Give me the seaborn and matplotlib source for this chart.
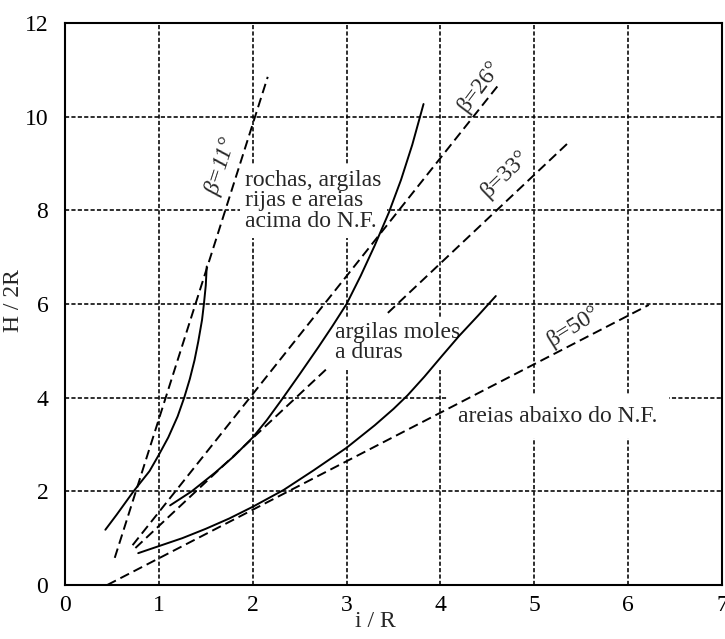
import matplotlib
matplotlib.use("Agg")
import matplotlib.pyplot as plt
import seaborn as sns
import pandas as pd

# ---- data ----
# solid curves
rochas_x = [0.43, 0.55, 0.73, 0.90, 1.00, 1.10, 1.20, 1.27, 1.33, 1.38, 1.42, 1.46, 1.48, 1.50, 1.51]
rochas_y = [1.18, 1.50, 2.00, 2.43, 2.78, 3.15, 3.60, 4.00, 4.40, 4.80, 5.20, 5.66, 6.00, 6.40, 6.80]

argilas_x = [1.12, 1.35, 1.60, 1.80, 2.00, 2.15, 2.31, 2.50, 2.70, 2.85, 3.00, 3.15, 3.30, 3.45, 3.58, 3.70, 3.82]
argilas_y = [1.70, 2.00, 2.40, 2.75, 3.15, 3.52, 3.96, 4.50, 5.08, 5.53, 6.00, 6.60, 7.25, 7.95, 8.65, 9.40, 10.27]

areias_x = [0.78, 1.00, 1.25, 1.50, 1.75, 2.00, 2.33, 2.65, 3.00, 3.30, 3.50, 3.65, 3.83, 4.02, 4.20, 4.40, 4.59]
areias_y = [0.68, 0.83, 1.00, 1.20, 1.42, 1.67, 2.03, 2.45, 2.93, 3.41, 3.76, 4.05, 4.45, 4.90, 5.32, 5.75, 6.17]

# dashed beta lines (segments)
beta11_x = [0.53, 2.16]
beta11_y = [0.58, 10.85]
beta26_x = [0.72, 4.62]
beta26_y = [0.85, 10.68]
beta33a_x = [0.75, 2.78]
beta33a_y = [0.79, 4.60]
beta33b_x = [3.44, 5.35]
beta33b_y = [5.81, 9.42]
beta50_x = [0.45, 6.22]
beta50_y = [0.00, 5.98]

x_ticks = [0, 1, 2, 3, 4, 5, 6, 7]
y_ticks = [0, 2, 4, 6, 8, 10, 12]

sns.set_style("white")
plt.rcParams["font.family"] = ["Liberation Serif", "DejaVu Serif"]

fig = plt.figure(figsize=(7.25, 6.39), dpi=100)
ax = fig.add_axes([65 / 725, 1 - 585 / 639, 657 / 725, 562 / 639])

ax.set_xlim(0, 7)
ax.set_ylim(0, 12)
ax.set_xticks(x_ticks)
ax.set_yticks(y_ticks)
ax.grid(True, color="black", linestyle=(0, (2.6, 1.4)), linewidth=1.15, zorder=0)
ax.set_axisbelow(True)

solid_kw = dict(color="black", linewidth=1.4, sort=False, estimator=None, zorder=3)
for xs, ys in [(rochas_x, rochas_y), (argilas_x, argilas_y), (areias_x, areias_y)]:
    df = pd.DataFrame({"x": xs, "y": ys})
    sns.lineplot(data=df, x="x", y="y", ax=ax, **solid_kw)

dash_kw = dict(color="black", linewidth=1.4, sort=False, estimator=None, zorder=3)
for xs, ys in [(beta11_x, beta11_y), (beta26_x, beta26_y), (beta33a_x, beta33a_y),
               (beta33b_x, beta33b_y), (beta50_x, beta50_y)]:
    df = pd.DataFrame({"x": xs, "y": ys})
    sns.lineplot(data=df, x="x", y="y", ax=ax, linestyle=(0, (5, 2.6)), **dash_kw)

for l in ax.get_lines():
    l.set_solid_capstyle("round")
    l.set_solid_joinstyle("round")

# text labels
fs = 17
box = dict(facecolor="white", edgecolor="none", pad=4)
ax.text(1.92, 8.20, "rochas, argilas\nrijas e areias\nacima do N.F.", fontsize=fs,
        ha="left", va="center", linespacing=0.97, bbox=box, zorder=2)
ax.text(2.88, 5.17, "argilas moles\na duras", fontsize=fs,
        ha="left", va="center", linespacing=0.95, bbox=box, zorder=2)
ax.text(4.19, 3.60, "areias abaixo do N.F.", fontsize=fs,
        ha="left", va="center", bbox=dict(facecolor="white", edgecolor="none", pad=8), zorder=2)

ax.text(1.67, 8.93, "β=11°", fontsize=fs, style="italic", rotation=72,
        ha="center", va="center", rotation_mode="anchor", zorder=4)
ax.text(4.42, 10.64, "β=26°", fontsize=fs, rotation=53,
        ha="center", va="center", rotation_mode="anchor", zorder=4)
ax.text(4.69, 8.78, "β=33°", fontsize=fs, rotation=44,
        ha="center", va="center", rotation_mode="anchor", zorder=4)
ax.text(5.42, 5.51, "β=50°", fontsize=fs, rotation=32,
        ha="center", va="center", rotation_mode="anchor", zorder=4)

ax.set_xlabel("i / R", fontsize=17)
ax.set_ylabel("H / 2R", fontsize=17)
ax.xaxis.set_label_coords(0.473, -0.046)
ax.xaxis.label.set_va("top")
ax.yaxis.set_label_coords(-0.063, 0.507)

ax.tick_params(axis="both", length=0, labelsize=17, colors="black")
ax.tick_params(axis="x", pad=7)
ax.tick_params(axis="y", pad=12)

for s in ax.spines.values():
    s.set_visible(True)
    s.set_color("black")
    s.set_linewidth(1.5)

fig.savefig("out.png", dpi=100, facecolor="white")
